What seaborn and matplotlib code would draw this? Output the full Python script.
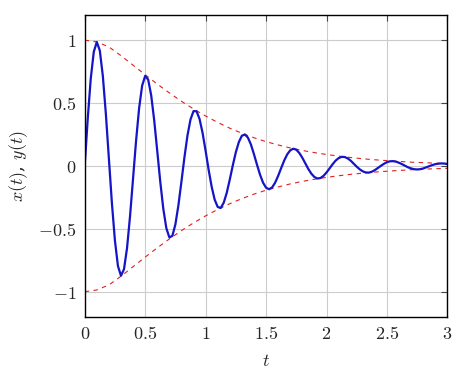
import numpy as np
import pandas as pd
import seaborn as sns
import matplotlib.pyplot as plt

# values
t_env = [0.0, 0.1, 0.2, 0.3, 0.4, 0.5, 0.6, 0.7, 0.8, 0.9, 1.0,
         1.1, 1.2, 1.3, 1.4, 1.5, 1.6, 1.7, 1.8, 1.9, 2.0,
         2.1, 2.2, 2.3, 2.4, 2.5, 2.6, 2.7, 2.8, 2.9, 3.0]
env = [1.000, 0.986, 0.946, 0.877, 0.801, 0.725, 0.651, 0.581, 0.514, 0.453, 0.397,
       0.346, 0.300, 0.260, 0.224, 0.193, 0.167, 0.143, 0.123, 0.106, 0.091,
       0.078, 0.067, 0.057, 0.049, 0.042, 0.036, 0.030, 0.026, 0.022, 0.019]

t_x = [round(0.025 * k, 3) for k in range(121)]
x_vals = [0.000, 0.375, 0.694, 0.907, 0.985, 0.917, 0.715, 0.413, 0.058, -0.296,
          -0.594, -0.796, -0.873, -0.821, -0.654, -0.399, -0.098, 0.202, 0.459, 0.638,
          0.716, 0.686, 0.561, 0.361, 0.119, -0.126, -0.340, -0.494, -0.568, -0.556,
          -0.465, -0.313, -0.125, 0.069, 0.242, 0.369, 0.436, 0.435, 0.373, 0.262,
          0.120, -0.030, -0.165, -0.268, -0.326, -0.334, -0.292, -0.213, -0.108, 0.005,
          0.109, 0.190, 0.240, 0.250, 0.225, 0.170, 0.093, 0.010, -0.069, -0.133,
          -0.173, -0.185, -0.171, -0.133, -0.079, -0.017, 0.043, 0.092, 0.124, 0.137,
          0.129, 0.103, 0.065, 0.020, -0.025, -0.062, -0.088, -0.100, -0.096, -0.079,
          -0.052, -0.020, 0.013, 0.042, 0.062, 0.072, 0.071, 0.060, 0.042, 0.018,
          -0.006, -0.027, -0.043, -0.052, -0.053, -0.046, -0.033, -0.016, 0.001, 0.017,
          0.030, 0.037, 0.038, 0.034, 0.025, 0.014, 0.001, -0.011, -0.020, -0.026,
          -0.028, -0.026, -0.020, -0.011, -0.002, 0.007, 0.014, 0.018, 0.020, 0.019,
          0.015]

xticks = [0, 0.5, 1, 1.5, 2, 2.5, 3]
yticks = [-1, -0.5, 0, 0.5, 1]

sns.set_style('white')
plt.rcParams['mathtext.fontset'] = 'cm'
plt.rcParams['font.family'] = ['DejaVu Serif']

env_df = pd.DataFrame({'t': t_env, 'upper': env, 'lower': [-v for v in env]})
x_df = pd.DataFrame({'t': t_x, 'x': x_vals})

fig = plt.figure(figsize=(4.68, 3.75), dpi=100)
ax = fig.add_axes([0.181, 0.155, 0.775, 0.805])

ax.grid(True, color='#cccccc', linewidth=0.8)
ax.set_axisbelow(True)

sns.lineplot(data=env_df, x='t', y='upper', ax=ax, color='#e02020', linewidth=0.8,
             dashes=False, linestyle=(0, (4, 4)))
sns.lineplot(data=env_df, x='t', y='lower', ax=ax, color='#e02020', linewidth=0.8,
             linestyle=(0, (4, 4)))
sns.lineplot(data=x_df, x='t', y='x', ax=ax, color='#1414c8', linewidth=1.6)

ax.set_xlim(0, 3)
ax.set_ylim(-1.2, 1.2)
ax.set_xticks(xticks)
ax.set_yticks(yticks)
ax.set_xticklabels([f'${v:g}$' for v in xticks], fontsize=13)
ax.set_yticklabels([f'${v:g}$'.replace('-', '-') for v in yticks], fontsize=13)
ax.tick_params(direction='in', length=4, width=0.8, color='#444444',
               top=True, right=True, pad=6)
for s in ax.spines.values():
    s.set_color('black')
    s.set_linewidth(1.0)

ax.set_xlabel('$t$', fontsize=13, labelpad=6)
ax.set_ylabel('$x(t)$, $y(t)$', fontsize=13, labelpad=6)

plt.savefig('out.png', dpi=100)
